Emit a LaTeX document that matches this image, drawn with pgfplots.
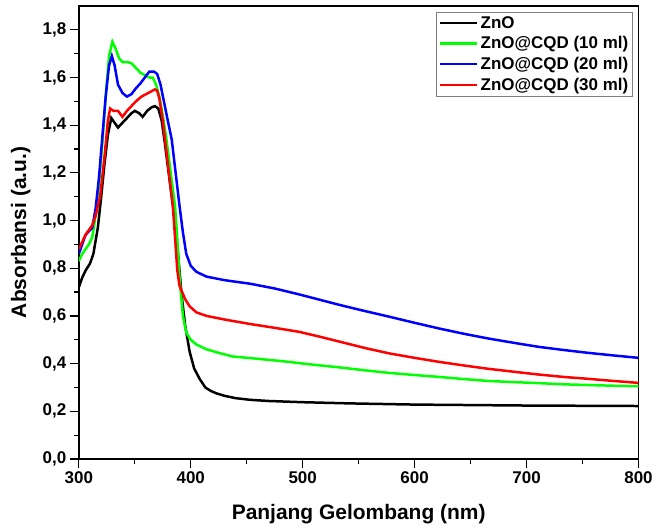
\documentclass[border=0pt]{standalone}
\usepackage{fontspec}
\setmainfont{Liberation Sans}
\usepackage{pgfplots}
\pgfplotsset{compat=1.18}

\begin{document}
\begin{tikzpicture}
\begin{axis}[
  at={(0,0)}, anchor=south west,
  scale only axis, width=561pt, height=454pt,
  xmin=300, xmax=800, ymin=0, ymax=1.9,
  xtick={300,400,500,600,700,800},
  ytick={0,0.2,0.4,0.6,0.8,1.0,1.2,1.4,1.6,1.8},
  minor x tick num=1, minor y tick num=1,
  tick align=outside, tick pos=left,
  major tick length=9pt, minor tick length=5pt,
  major tick style={line width=1.2pt, draw=black},
  minor tick style={line width=1.2pt, draw=black},
  axis line style={line width=1.6pt},
  /pgf/number format/assume math mode=true,
  ticklabel style={font=\fontsize{17}{19}\selectfont\bfseries},
  yticklabel style={/pgf/number format/fixed, /pgf/number format/fixed zerofill,
    /pgf/number format/precision=1, /pgf/number format/use comma},
  xlabel={Panjang Gelombang (nm)},
  ylabel={Absorbansi (a.u.)},
  label style={font=\fontsize{21}{24}\selectfont\bfseries},
  xlabel style={at={(axis description cs:0.5,0)}, anchor=base, yshift=-61pt},
  ylabel style={at={(axis description cs:0,0.5)}, anchor=south, yshift=45pt},
  legend style={at={(1,1)}, anchor=north east, xshift=-6pt, yshift=-6pt,
    draw=gray, line width=0.6pt, font=\fontsize{17}{18}\selectfont\bfseries,
    inner sep=2pt, row sep=3pt},
  legend cell align=left,
  legend image code/.code={\draw[#1, line width=2.5pt] (0pt,0pt) -- (38pt,0pt);},
]
\addplot[black, line width=2.5pt] coordinates {
(300,0.72) (303,0.76) (306,0.79) (310,0.82) (313,0.86) (317,0.97) (320,1.10)
(323,1.24) (326,1.36) (329,1.43) (332,1.41) (335,1.39) (339,1.41) (343,1.43)
(347,1.45) (350,1.46) (354,1.45) (357,1.435) (361,1.46) (365,1.475) (368,1.48)
(371,1.47) (374,1.42) (377,1.32) (380,1.21) (383,1.10) (386,1.00) (389,0.84)
(392,0.68) (395,0.56) (399,0.45) (403,0.38) (408,0.335) (413,0.30) (418,0.285)
(423,0.275) (430,0.265) (440,0.255) (453,0.248) (470,0.243) (500,0.238)
(542,0.233) (600,0.228) (700,0.224) (800,0.222)
};
\addlegendentry{ZnO}
\addplot[color={rgb,255:red,0;green,255;blue,0}, line width=2.5pt] coordinates {
(300,0.83) (303,0.86) (306,0.88) (309,0.90) (312,0.93) (315,1.02) (318,1.15)
(321,1.32) (324,1.52) (327,1.69) (330,1.75) (333,1.72) (336,1.68) (339,1.665)
(343,1.665) (347,1.66) (351,1.64) (355,1.62) (359,1.61) (363,1.60) (366,1.60)
(369,1.57) (372,1.52) (375,1.44) (378,1.35) (381,1.24) (384,1.13) (386,1.06)
(388,0.92) (390,0.76) (393,0.60) (396,0.53) (400,0.50) (405,0.48) (414,0.46)
(425,0.445) (437,0.43) (460,0.42) (482,0.41) (510,0.395) (533,0.384)
(555,0.372) (577,0.361) (600,0.352) (622,0.344) (644,0.335) (666,0.327)
(690,0.322) (711,0.318) (733,0.313) (755,0.310) (778,0.307) (800,0.305)
};
\addlegendentry{ZnO@CQD (10 ml)}
\addplot[color={rgb,255:red,0;green,0;blue,255}, line width=2.5pt] coordinates {
(300,0.86) (303,0.90) (306,0.94) (309,0.955) (312,0.97) (315,1.05) (318,1.18)
(321,1.35) (324,1.52) (327,1.65) (329.5,1.69) (332,1.65) (335,1.57) (339,1.535)
(343,1.52) (347,1.53) (351,1.555) (355,1.575) (359,1.60) (363,1.625) (367,1.625)
(370,1.615) (373,1.57) (376,1.50) (379,1.43) (383,1.34) (386,1.22) (390,1.06)
(393,0.95) (396,0.86) (400,0.81) (405,0.785) (414,0.765) (430,0.75) (453,0.735)
(475,0.715) (497,0.69) (515,0.668) (533,0.646) (555,0.621) (577,0.597)
(600,0.571) (622,0.547) (644,0.525) (666,0.505) (690,0.486) (711,0.470)
(733,0.457) (755,0.445) (778,0.434) (800,0.424)
};
\addlegendentry{ZnO@CQD (20 ml)}
\addplot[color={rgb,255:red,255;green,0;blue,0}, line width=2.5pt] coordinates {
(300,0.88) (303,0.91) (306,0.94) (309,0.96) (312,0.98) (315,1.02) (319,1.10)
(323,1.27) (326,1.42) (328,1.47) (331,1.46) (335,1.46) (339,1.435) (343,1.46)
(347,1.48) (351,1.50) (356,1.52) (360,1.53) (364,1.54) (368,1.55) (370,1.545)
(372,1.51) (375,1.42) (377,1.34) (380,1.22) (384,1.06) (388,0.79) (390,0.725)
(395,0.67) (399,0.64) (405,0.615) (414,0.60) (430,0.585) (453,0.566) (475,0.55)
(497,0.533) (515,0.513) (533,0.492) (555,0.466) (577,0.443) (600,0.424)
(622,0.407) (644,0.392) (666,0.378) (690,0.365) (711,0.354) (733,0.344)
(755,0.336) (778,0.327) (800,0.319)
};
\addlegendentry{ZnO@CQD (30 ml)}
\end{axis}
\path (-79pt,-66pt) (577pt,460pt);
\end{tikzpicture}
\end{document}
